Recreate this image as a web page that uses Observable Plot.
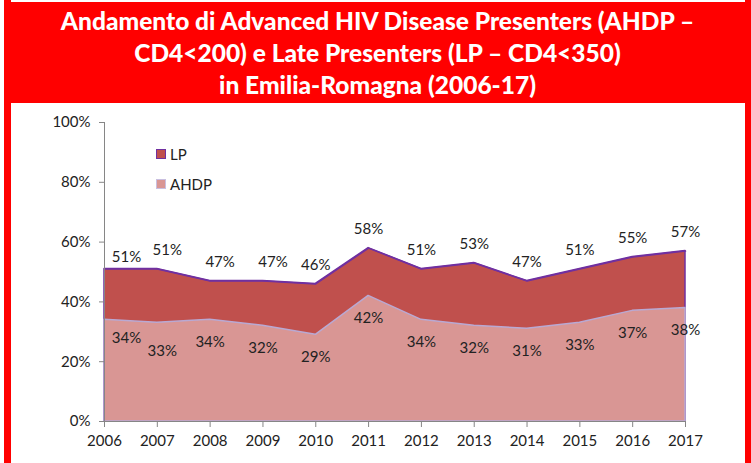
<!DOCTYPE html>
<html>
<head>
<meta charset="utf-8">
<script src="https://cdn.jsdelivr.net/npm/d3@7"></script>
<script src="https://cdn.jsdelivr.net/npm/@observablehq/plot@0.6"></script>
<style>
  html, body { margin: 0; padding: 0; background: #fff; }
  #page { position: relative; width: 751px; height: 463px; overflow: hidden; background: #fff; }
  #header { position: absolute; left: 4px; top: 2px; width: 747px; height: 101px; background: #ff0000;
    color: #fff; font-family: Lato, "Open Sans", sans-serif; font-weight: 900; font-size: 24.5px;
    line-height: 32px; text-align: center; box-sizing: border-box; padding-top: 3px; }
  .bar { position: absolute; top: 0; height: 463px; background: #ff0000; }
  #chart { position: absolute; left: 0; top: 103px; }
  #legend { position: absolute; left: 156px; top: 139px; font-family: Lato, sans-serif; font-size: 15px; color: #222; }
  #legend div { display: flex; align-items: center; height: 30px; }
  #legend span.sw { display: inline-block; width: 8px; height: 8px; margin-right: 4px; border: 1px solid #7030a0; }
</style>
</head>
<body>
<div id="page">
  <div id="header"></div>
  <div class="bar" style="left:4px;width:7px"></div>
  <div class="bar" style="left:745px;width:6px"></div>
  <div id="chart"></div>
  <div id="legend"></div>
</div>
<script>
const titleLines = [
  "Andamento di Advanced HIV Disease Presenters (AHDP –",
  "CD4<200) e Late Presenters (LP – CD4<350)",
  "in Emilia-Romagna (2006-17)"
];
const years = [2006, 2007, 2008, 2009, 2010, 2011, 2012, 2013, 2014, 2015, 2016, 2017];
const lpValues = [51, 51, 47, 47, 46, 58, 51, 53, 47, 51, 55, 57];
const ahdpValues = [34, 33, 34, 32, 29, 42, 34, 32, 31, 33, 37, 38];
const yTicks = [0, 20, 40, 60, 80, 100];
const seriesNames = ["LP", "AHDP"];
const seriesColors = ["#c0504d", "#d99694"];
const seriesStrokes = ["#7030a0", "#b9a9d3"];

document.getElementById("header").innerHTML = titleLines
  .map(t => `<div>${t.replace(/</g, "&lt;")}</div>`).join("");

document.getElementById("legend").innerHTML = seriesNames
  .map((n, i) => `<div><span class="sw" style="background:${seriesColors[i]};border-color:${i === 0 ? "#7030a0" : "#c9bfe0"}"></span>${n}</div>`).join("");

const data = years.map((y, i) => ({year: y, lp: lpValues[i], ahdp: ahdpValues[i], i}));
const font = "Lato, 'Open Sans', sans-serif";
const lab = {fill: "#222", fontSize: 15};

const chart = Plot.plot({
  width: 751,
  height: 360,
  marginLeft: 104,
  marginRight: 66,
  marginTop: 19,
  marginBottom: 42,
  style: {fontFamily: font, fontSize: "15px", color: "#222", background: "transparent"},
  x: {domain: [2006, 2017], ticks: years, tickFormat: d => String(d), label: null},
  y: {domain: [0, 100], ticks: yTicks, tickFormat: d => d + "%", label: null},
  marks: [
    Plot.areaY(data, {x: "year", y1: 0, y2: "lp", fill: seriesColors[0], stroke: seriesStrokes[0], strokeWidth: 1.5}),
    Plot.areaY(data, {x: "year", y1: 0, y2: "ahdp", fill: seriesColors[1], stroke: seriesStrokes[1], strokeWidth: 1.5}),
    Plot.lineY(data, {x: "year", y: "lp", stroke: seriesStrokes[0], strokeWidth: 1.5}),
    Plot.ruleX([2006], {stroke: "#868686", y1: 0, y2: 100}),
    Plot.ruleY([0], {stroke: "#868686"}),
    Plot.axisY({ticks: yTicks, tickFormat: d => d + "%", tickSize: 5, tickPadding: 9, stroke: "#868686", fill: "#222", fontSize: 15, label: null}),
    Plot.axisX({ticks: years, tickFormat: d => String(d), tickSize: 6, tickPadding: 8, stroke: "#868686", fill: "#222", fontSize: 15, label: null}),
    // LP labels
    Plot.text(data.filter(d => d.i === 0), {x: "year", y: "lp", text: d => d.lp + "%", dy: -12, dx: 22, ...lab}),
    Plot.text(data.filter(d => d.i >= 1 && d.i <= 3), {x: "year", y: "lp", text: d => d.lp + "%", dy: -19, dx: 10, ...lab}),
    Plot.text(data.filter(d => d.i > 3), {x: "year", y: "lp", text: d => d.lp + "%", dy: -19, ...lab}),
    // AHDP labels
    Plot.text(data.filter(d => d.i === 0), {x: "year", y: "ahdp", text: d => d.ahdp + "%", dy: 18, dx: 22, ...lab}),
    Plot.text(data.filter(d => d.i === 1), {x: "year", y: "ahdp", text: d => d.ahdp + "%", dy: 28, dx: 5, ...lab}),
    Plot.text(data.filter(d => d.i > 1), {x: "year", y: "ahdp", text: d => d.ahdp + "%", dy: 22, ...lab})
  ]
});
document.getElementById("chart").appendChild(chart);
</script>
</body>
</html>
